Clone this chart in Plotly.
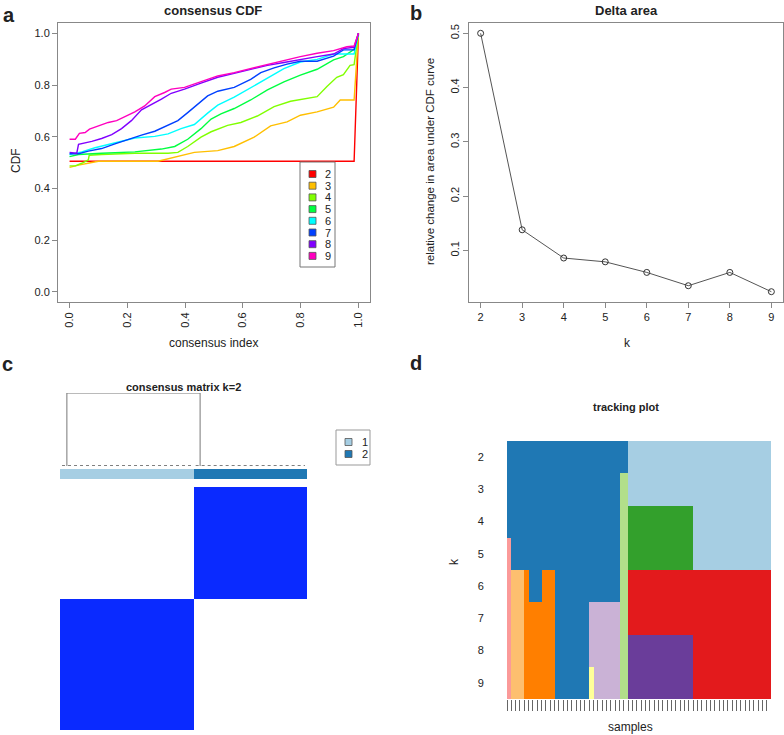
import plotly.graph_objects as go

W, H = 784, 735


def px(x):
    return x / W


def py(y):
    return 1 - y / H


FONT = "Liberation Sans, Arial, Helvetica, sans-serif"
TXT = "#222222"
AXC = "#888888"

# ---------------- data ----------------
k_values = [2, 3, 4, 5, 6, 7, 8, 9]
cdf_colors = ["#FF0000", "#FFBF00", "#80FF00", "#00FF40",
              "#00FFFF", "#0040FF", "#8000FF", "#FF00BF"]

cdf_x_k2 = [0.0, 0.985, 1.0]
cdf_y_k2 = [0.505, 0.505, 1.0]

cdf_x_k3 = [0.0, 0.031, 0.077, 0.1, 0.306, 0.341, 0.386, 0.432, 0.513, 0.57,
            0.639, 0.696, 0.753, 0.799, 0.857, 0.914, 0.937, 0.985, 1.0]
cdf_y_k3 = [0.481, 0.490, 0.500, 0.505, 0.505, 0.515, 0.528, 0.539, 0.546, 0.562,
            0.598, 0.642, 0.657, 0.683, 0.696, 0.714, 0.742, 0.742, 1.0]

cdf_x_k4 = [0.0, 0.02, 0.042, 0.065, 0.068, 0.111, 0.226, 0.341, 0.375, 0.409,
            0.455, 0.49, 0.547, 0.593, 0.65, 0.708, 0.765, 0.822, 0.857, 0.891,
            0.925, 0.948, 0.971, 0.985, 1.0]
cdf_y_k4 = [0.487, 0.487, 0.497, 0.510, 0.528, 0.531, 0.536, 0.536, 0.539, 0.562,
            0.598, 0.619, 0.644, 0.655, 0.680, 0.716, 0.737, 0.747, 0.755, 0.794,
            0.830, 0.840, 0.876, 0.879, 1.0]

cdf_x_k5 = [0.0, 0.031, 0.111, 0.226, 0.318, 0.364, 0.409, 0.455, 0.49, 0.524,
            0.57, 0.627, 0.685, 0.742, 0.799, 0.857, 0.914, 0.948, 0.985, 1.0]
cdf_y_k5 = [0.523, 0.531, 0.536, 0.541, 0.552, 0.562, 0.590, 0.631, 0.668, 0.688,
            0.709, 0.742, 0.781, 0.812, 0.838, 0.861, 0.897, 0.910, 0.938, 1.0]

cdf_x_k6 = [0.0, 0.042, 0.088, 0.134, 0.18, 0.226, 0.295, 0.341, 0.386, 0.432,
            0.478, 0.513, 0.57, 0.627, 0.685, 0.742, 0.799, 0.857, 0.914, 0.985, 1.0]
cdf_y_k6 = [0.531, 0.541, 0.557, 0.570, 0.582, 0.595, 0.601, 0.611, 0.631, 0.647,
            0.691, 0.722, 0.753, 0.789, 0.825, 0.863, 0.889, 0.899, 0.920, 0.920, 1.0]

cdf_x_k7 = [0.0, 0.031, 0.065, 0.111, 0.157, 0.203, 0.249, 0.295, 0.341, 0.375,
            0.409, 0.455, 0.478, 0.513, 0.57, 0.627, 0.662, 0.708, 0.753, 0.799,
            0.857, 0.914, 0.948, 0.985, 1.0]
cdf_y_k7 = [0.534, 0.534, 0.544, 0.554, 0.572, 0.590, 0.606, 0.621, 0.644, 0.662,
            0.693, 0.735, 0.758, 0.776, 0.791, 0.822, 0.848, 0.866, 0.881, 0.892,
            0.892, 0.912, 0.936, 0.936, 1.0]

cdf_x_k8 = [0.0, 0.025, 0.031, 0.054, 0.077, 0.111, 0.146, 0.18, 0.214, 0.249,
            0.283, 0.318, 0.352, 0.398, 0.455, 0.513, 0.57, 0.627, 0.685, 0.742,
            0.799, 0.857, 0.914, 0.948, 0.985, 1.0]
cdf_y_k8 = [0.539, 0.536, 0.570, 0.575, 0.582, 0.593, 0.608, 0.631, 0.662, 0.704,
            0.724, 0.745, 0.768, 0.784, 0.807, 0.830, 0.845, 0.861, 0.876, 0.887,
            0.899, 0.910, 0.920, 0.941, 0.946, 1.0]

cdf_x_k9 = [0.0, 0.02, 0.034, 0.054, 0.069, 0.1, 0.134, 0.163, 0.203, 0.226,
            0.26, 0.295, 0.329, 0.352, 0.398, 0.455, 0.513, 0.57, 0.627, 0.685,
            0.742, 0.799, 0.857, 0.914, 0.96, 0.985, 1.0]
cdf_y_k9 = [0.590, 0.590, 0.613, 0.616, 0.629, 0.642, 0.655, 0.662, 0.683, 0.696,
            0.719, 0.755, 0.771, 0.784, 0.791, 0.812, 0.835, 0.848, 0.863, 0.881,
            0.894, 0.910, 0.923, 0.933, 0.948, 0.951, 1.0]

delta_k = [2, 3, 4, 5, 6, 7, 8, 9]
delta_area = [0.500, 0.138, 0.086, 0.079, 0.0595, 0.035, 0.0595, 0.024]

# consensus matrix k=2 (samples in dendrogram order)
cluster_sizes_k2 = [33, 28]
cluster_labels = ["1", "2"]
cluster_colors = ["#a6cee3", "#1f78b4"]
consensus_within = 1.0
consensus_between = 0.0
dendro_height = 1.0
dendro_leg_offset = [1.7, 1.6]   # node position inside each cluster (samples)

# tracking plot: contiguous sample groups and their cluster colour per k
paired = ["#a6cee3", "#1f78b4", "#b2df8a", "#33a02c", "#fb9a99", "#e31a1c",
          "#fdbf6f", "#ff7f00", "#cab2d6", "#6a3d9a", "#ffff99"]
group_sizes = [1, 3, 1, 3, 3, 8, 1, 6, 2, 15, 18]
track_k2 = [2, 2, 2, 2, 2, 2, 2, 2, 2, 1, 1]
track_k3 = [2, 2, 2, 2, 2, 2, 2, 2, 3, 1, 1]
track_k4 = [2, 2, 2, 2, 2, 2, 2, 2, 3, 4, 1]
track_k5 = [5, 2, 2, 2, 2, 2, 2, 2, 3, 4, 1]
track_k6 = [5, 7, 8, 2, 8, 2, 2, 2, 3, 6, 6]
track_k7 = [5, 7, 8, 8, 8, 2, 9, 9, 3, 6, 6]
track_k8 = [5, 7, 8, 8, 8, 2, 9, 9, 3, 10, 6]
track_k9 = [5, 7, 8, 8, 8, 2, 11, 9, 3, 10, 6]

# ---------------- figure ----------------
fig = go.Figure()

cdf_x = [cdf_x_k2, cdf_x_k3, cdf_x_k4, cdf_x_k5, cdf_x_k6, cdf_x_k7, cdf_x_k8, cdf_x_k9]
cdf_y = [cdf_y_k2, cdf_y_k3, cdf_y_k4, cdf_y_k5, cdf_y_k6, cdf_y_k7, cdf_y_k8, cdf_y_k9]
for k, xs, ys, c in zip(k_values, cdf_x, cdf_y, cdf_colors):
    fig.add_trace(go.Scatter(x=xs, y=ys, mode="lines", name=str(k),
                             line=dict(color=c, width=1.4), showlegend=False,
                             xaxis="x", yaxis="y"))

# panel b
fig.add_trace(go.Scatter(x=delta_k, y=delta_area, mode="lines+markers",
                         line=dict(color="#555555", width=1),
                         marker=dict(symbol="circle-open", size=6,
                                     color="#333333", line=dict(width=1)),
                         showlegend=False, xaxis="x2", yaxis="y2"))

# panel c: consensus matrix
members = []
for ci, n in enumerate(cluster_sizes_k2):
    members += [ci] * n
N = len(members)
centers = [i + 0.5 for i in range(N)]
zmat = [[consensus_within if members[r] == members[c] else consensus_between
         for c in range(N)] for r in range(N)]
fig.add_trace(go.Heatmap(x=centers, y=centers, z=zmat,
                         colorscale=[[0, "#ffffff"], [1, "#0a2aff"]],
                         zmin=0, zmax=1, showscale=False, hoverinfo="skip",
                         xaxis="x3", yaxis="y3"))
fig.add_trace(go.Heatmap(x=centers, y=[0.5], z=[members],
                         colorscale=[[0, cluster_colors[0]], [0.5, cluster_colors[0]],
                                     [0.5, cluster_colors[1]], [1, cluster_colors[1]]],
                         zmin=-0.5, zmax=1.5, showscale=False, hoverinfo="skip",
                         xaxis="x4", yaxis="y4"))

# dendrogram
starts = [0, cluster_sizes_k2[0]]
legs = [s + o for s, o in zip(starts, dendro_leg_offset)]
fig.add_trace(go.Scatter(x=[legs[0], legs[0], legs[1], legs[1]],
                         y=[0, dendro_height, dendro_height, 0], mode="lines",
                         line=dict(color="#777777", width=1), showlegend=False,
                         hoverinfo="skip", xaxis="x5", yaxis="y5", cliponaxis=False))
for s, n in zip(starts, cluster_sizes_k2):
    fig.add_trace(go.Scatter(x=[s + 0.5, s + n - 0.5], y=[0, 0], mode="lines",
                             line=dict(color="#555555", width=1.5, dash="dot"),
                             showlegend=False, hoverinfo="skip",
                             xaxis="x5", yaxis="y5", cliponaxis=False))

# panel d: tracking plot
tracks = [track_k2, track_k3, track_k4, track_k5, track_k6, track_k7, track_k8, track_k9]
ztrack = []
for t in tracks:
    row = []
    for g, n in zip(t, group_sizes):
        row += [g] * n
    ztrack.append(row)
NS = len(ztrack[0])
nc = len(paired)
cs_track = []
for i, c in enumerate(paired):
    cs_track.append([i / nc, c])
    cs_track.append([(i + 1) / nc, c])
fig.add_trace(go.Heatmap(x=[i + 0.5 for i in range(NS)], y=k_values, z=ztrack,
                         colorscale=cs_track, zmin=0.5, zmax=nc + 0.5,
                         showscale=False, hoverinfo="skip",
                         xaxis="x6", yaxis="y6"))

# ---------------- axes ----------------
tickfont = dict(family=FONT, size=11, color=TXT)
box = dict(showline=True, mirror=True, linecolor=AXC, linewidth=1,
           ticks="outside", ticklen=5, tickcolor=AXC, showgrid=False,
           zeroline=False, tickfont=tickfont)
hidden = dict(visible=False, showgrid=False, zeroline=False)

cdf_ticks = [0, 0.2, 0.4, 0.6, 0.8, 1.0]
fig.update_layout(
    xaxis=dict(domain=[px(58), px(370)], range=[-0.04, 1.04], anchor="y",
               tickvals=cdf_ticks, ticktext=[f"{v:.1f}" for v in cdf_ticks],
               tickangle=-90, **box),
    yaxis=dict(domain=[py(302), py(23)], range=[-0.04, 1.04], anchor="x",
               tickvals=cdf_ticks, ticktext=[f"{v:.1f}" for v in cdf_ticks],
               tickangle=0, **box),
    xaxis2=dict(domain=[px(469), px(783)], range=[1.72, 9.28], anchor="y2",
                tickvals=delta_k, tickangle=0, **box),
    yaxis2=dict(domain=[py(302), py(23)], range=[0.005, 0.519], anchor="x2",
                tickvals=[0.1, 0.2, 0.3, 0.4, 0.5], tickangle=-90, **box),
    xaxis3=dict(domain=[px(60), px(307)], range=[0, N], anchor="y3", **hidden),
    yaxis3=dict(domain=[py(730), py(487)], range=[0, N], anchor="x3", **hidden),
    xaxis4=dict(domain=[px(60), px(307)], range=[0, N], anchor="y4", **hidden),
    yaxis4=dict(domain=[py(479), py(469)], range=[0, 1], anchor="x4", **hidden),
    xaxis5=dict(domain=[px(60), px(307)], range=[0, N], anchor="y5", **hidden),
    yaxis5=dict(domain=[py(466), py(393)], range=[0, 1], anchor="x5", **hidden),
    xaxis6=dict(domain=[px(507), px(771)], range=[0, NS], anchor="y6",
                tickvals=list(range(NS)), ticks="outside", ticklen=11,
                tickcolor="#666666", tickwidth=1, showticklabels=False,
                showline=False, showgrid=False, zeroline=False),
    yaxis6=dict(domain=[py(699), py(441)], range=[9.5, 1.5], anchor="x6",
                tickvals=k_values, ticks="outside", ticklen=20,
                tickcolor="rgba(0,0,0,0)", showline=False, showgrid=False,
                zeroline=False, tickfont=tickfont),
)

# ---------------- text ----------------
ann = []


def text(x, y, s, size=12, bold=False, angle=0, xanchor="center"):
    ann.append(dict(x=px(x), y=py(y), xref="paper", yref="paper",
                    text=f"<b>{s}</b>" if bold else s, showarrow=False,
                    textangle=angle, xanchor=xanchor, yanchor="middle",
                    font=dict(family=FONT, size=size, color=TXT)))


text(9, 15, "a", 20, True)
text(416, 13, "b", 20, True)
text(7, 364, "c", 20, True)
text(416, 363, "d", 20, True)
text(213, 11, "consensus CDF", 13, True)
text(626, 11, "Delta area", 13, True)
text(16, 160, "CDF", 12, angle=-90)
text(213, 343, "consensus index", 12)
text(430, 162, "relative change in area under CDF curve", 11.5, angle=-90)
text(627, 343, "k", 12)
text(183, 387, "consensus matrix k=2", 11, True)
text(626, 407, "tracking plot", 11, True)
text(454, 562, "k", 12, angle=-90)
text(630, 727, "samples", 12)

shapes = []
# legend panel a
shapes.append(dict(type="rect", xref="paper", yref="paper",
                   x0=px(300), x1=px(335), y0=py(267), y1=py(162),
                   line=dict(color="#777777", width=1), fillcolor="white"))
for i, (k, c) in enumerate(zip(k_values, cdf_colors)):
    yc = 174 + i * 11.7
    shapes.append(dict(type="rect", xref="paper", yref="paper",
                       x0=px(309), x1=px(316), y0=py(yc + 3.5), y1=py(yc - 3.5),
                       line=dict(color="#555555", width=0.8), fillcolor=c))
    text(323, yc, str(k), 11, xanchor="left")

# legend panel c
shapes.append(dict(type="rect", xref="paper", yref="paper",
                   x0=px(336), x1=px(370), y0=py(465), y1=py(430),
                   line=dict(color="#999999", width=1), fillcolor="white"))
for i, (lab, c) in enumerate(zip(cluster_labels, cluster_colors)):
    yc = 442 + i * 12
    shapes.append(dict(type="rect", xref="paper", yref="paper",
                       x0=px(345), x1=px(352), y0=py(yc + 3.5), y1=py(yc - 3.5),
                       line=dict(color="#555555", width=0.8), fillcolor=c))
    text(360, yc, lab, 11, xanchor="left")

fig.update_layout(
    width=W, height=H, margin=dict(l=0, r=0, t=0, b=0),
    paper_bgcolor="white", plot_bgcolor="white",
    showlegend=False, annotations=ann, shapes=shapes,
    font=dict(family=FONT, color=TXT),
)

# remove the page's default body margin so the figure fills the window
fig.write_html("out.html",
               config={"displayModeBar": False},
               post_script="document.body.style.margin='0';"
                           "document.body.style.overflow='hidden';")
